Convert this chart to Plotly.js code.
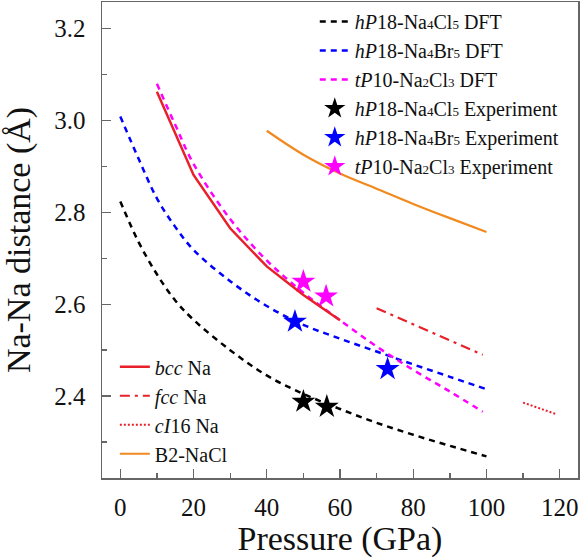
<!DOCTYPE html>
<html>
<head>
<meta charset="utf-8">
<script src="https://cdn.plot.ly/plotly-3.0.1.min.js"></script>
<style>
html,body{margin:0;padding:0;background:#fff;}
#chart{width:582px;height:560px;}
</style>
</head>
<body>
<div id="chart"></div>
<script>
// ---- data ----
const pNa4Cl5 = [0, 5, 10, 15, 20, 30, 40, 50, 60, 70, 80, 90, 100];
const dNa4Cl5 = [2.823, 2.735, 2.665, 2.608, 2.566, 2.500, 2.445, 2.405, 2.372, 2.342, 2.316, 2.292, 2.269];

const pNa4Br5 = [0, 5, 10, 15, 20, 30, 40, 50, 60, 70, 80, 90, 100];
const dNa4Br5 = [3.008, 2.916, 2.830, 2.768, 2.718, 2.650, 2.596, 2.555, 2.525, 2.497, 2.469, 2.442, 2.415];

const pNa2Cl3 = [10, 15, 20, 30, 40, 50, 60, 70, 80, 90, 99];
const dNa2Cl3 = [3.079, 2.990, 2.905, 2.785, 2.695, 2.625, 2.565, 2.508, 2.457, 2.410, 2.366];

const pBcc = [10, 20, 30, 40, 50, 60];
const dBcc = [3.062, 2.881, 2.765, 2.682, 2.620, 2.565];

const pFcc = [70, 80, 90, 99];
const dFcc = [2.591, 2.556, 2.520, 2.490];

const pCI16 = [110, 119];
const dCI16 = [2.386, 2.361];

const pB2 = [40, 50, 60, 70, 80, 90, 100];
const dB2 = [2.977, 2.925, 2.884, 2.851, 2.818, 2.787, 2.757];

const pExpNa4Cl5 = [50.0, 56.4];
const dExpNa4Cl5 = [2.388, 2.377];
const pExpNa4Br5 = [47.7, 73.0];
const dExpNa4Br5 = [2.562, 2.459];
const pExpNa2Cl3 = [50.0, 56.2];
const dExpNa2Cl3 = [2.649, 2.617];

// small subscript digits drawn as a smaller span (as in the reference)
const sb = d => '<span style="font-size:13px">' + d + '</span>';
const names = {
  cl5: '<i>hP</i>18-Na' + sb(4) + 'Cl' + sb(5),
  br5: '<i>hP</i>18-Na' + sb(4) + 'Br' + sb(5),
  cl3: '<i>tP</i>10-Na' + sb(2) + 'Cl' + sb(3)
};

const RED = '#e8202a', ORANGE = '#f08a1e', MAG = '#ff00ff', BLUE = '#0000ff', BLK = '#000000';
const DASH = '6px,5px';

const traces = [
  {x: pNa4Cl5, y: dNa4Cl5, mode: 'lines', name: names.cl5 + ' DFT', line: {color: BLK, width: 2.5, dash: DASH, shape: 'spline'}},
  {x: pNa4Br5, y: dNa4Br5, mode: 'lines', name: names.br5 + ' DFT', line: {color: BLUE, width: 2.5, dash: DASH, shape: 'spline'}},
  {x: pNa2Cl3, y: dNa2Cl3, mode: 'lines', name: names.cl3 + ' DFT', line: {color: MAG, width: 2.5, dash: DASH, shape: 'spline'}},
  {x: pExpNa4Cl5, y: dExpNa4Cl5, mode: 'markers', name: names.cl5 + ' Experiment', marker: {symbol: 'star', size: 18, color: BLK}},
  {x: pExpNa4Br5, y: dExpNa4Br5, mode: 'markers', name: names.br5 + ' Experiment', marker: {symbol: 'star', size: 18, color: BLUE}},
  {x: pExpNa2Cl3, y: dExpNa2Cl3, mode: 'markers', name: names.cl3 + ' Experiment', marker: {symbol: 'star', size: 18, color: MAG}},
  {x: pBcc, y: dBcc, mode: 'lines', name: '<i>bcc</i> Na', legend: 'legend2', line: {color: RED, width: 2.5}},
  {x: pFcc, y: dFcc, mode: 'lines', name: '<i>fcc</i> Na', legend: 'legend2', line: {color: RED, width: 2.2, dash: '10px,5px,3px,5px'}},
  {x: pCI16, y: dCI16, mode: 'lines', name: '<i>cI</i>16 Na', legend: 'legend2', line: {color: RED, width: 2, dash: '2px,2px'}},
  {x: pB2, y: dB2, mode: 'lines', name: 'B2-NaCl', legend: 'legend2', line: {color: ORANGE, width: 2.2, shape: 'spline'}}
];

const FONT = 'Times New Roman';
const AXC = '#666666';
const TXT = '#111111';

const layout = {
  width: 582, height: 560,
  margin: {l: 102, r: 4, t: 2, b: 82},
  paper_bgcolor: '#ffffff', plot_bgcolor: '#ffffff',
  showlegend: true,
  xaxis: {
    range: [-5, 125], dtick: 20, tick0: 0,
    showgrid: false, zeroline: false,
    showline: true, mirror: true, linecolor: AXC, linewidth: 1.5,
    ticks: 'inside', ticklen: 9, tickcolor: AXC, tickwidth: 1.3,
    minor: {ticks: 'inside', ticklen: 5, dtick: 10, tickcolor: AXC, tickwidth: 1.3, showgrid: false},
    tickfont: {family: FONT, size: 25, color: TXT},
    ticklabelstandoff: 6,
    title: {text: 'Pressure (GPa)', font: {family: FONT, size: 34, color: TXT}, standoff: 0}
  },
  yaxis: {
    range: [2.222, 3.257], dtick: 0.2, tick0: 2.4, tickformat: '.1f',
    showgrid: false, zeroline: false,
    showline: true, mirror: true, linecolor: AXC, linewidth: 1.5,
    ticks: 'inside', ticklen: 9, tickcolor: AXC, tickwidth: 1.3,
    minor: {ticks: 'inside', ticklen: 5, dtick: 0.1, tickcolor: AXC, tickwidth: 1.3, showgrid: false},
    tickfont: {family: FONT, size: 25, color: TXT},
    ticklabelstandoff: 10,
    title: {text: 'Na-Na distance (Å)', font: {family: FONT, size: 34, color: TXT}, standoff: 14}
  },
  legend: {
    x: 0.447, y: 1.0, xanchor: 'left', yanchor: 'top',
    bgcolor: 'rgba(0,0,0,0)', borderwidth: 0,
    font: {family: FONT, size: 20, color: TXT},
    itemwidth: 30, tracegroupgap: 0
  },
  legend2: {
    x: 0.027, y: 0.01, xanchor: 'left', yanchor: 'bottom',
    bgcolor: 'rgba(0,0,0,0)', borderwidth: 0,
    font: {family: FONT, size: 20, color: TXT},
    itemwidth: 30, tracegroupgap: 0
  }
};

Plotly.newPlot('chart', traces, layout, {displayModeBar: false, staticPlot: true});
</script>
</body>
</html>
